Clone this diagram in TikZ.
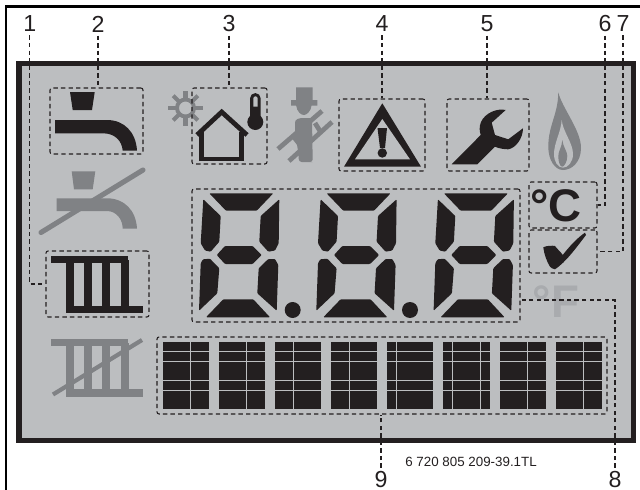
\documentclass[tikz,border=0pt]{standalone}
\usepackage{fontspec}
\setmainfont{Liberation Sans}
\usepackage{tikz}
\usetikzlibrary{fit}
\definecolor{lcdgray}{HTML}{BCBEC0}
\definecolor{lcdblack}{HTML}{231F20}
\definecolor{lcdoff}{HTML}{808285}
\definecolor{lcdfaint}{HTML}{A9ABAE}
\tikzset{
  dashbox/.style={draw=lcdblack, line width=0.6pt, dash pattern=on 2.5pt off 1.8pt, rounded corners=1.2pt, inner sep=0pt},
  leader/.style={draw=lcdblack, line width=0.6pt, dash pattern=on 2.5pt off 1.8pt},
  numlabel/.style={font=\fontsize{13.2}{14}\selectfont, text=lcdblack, inner sep=0pt, outer sep=2pt},
  seg/.style={fill=lcdblack, rounded corners=0.5pt},
  offsym/.style={fill=lcdoff},
  offline/.style={draw=lcdoff, line width=2.9pt, line cap=round}
}
\begin{document}
\begin{tikzpicture}[x=0.02cm, y=-0.02cm]
  \useasboundingbox (0,0) rectangle (640,490);
  \draw[black, line width=1.3pt] (6,490) -- (6,6.5) -- (640,6.5);
  \fill[lcdgray] (19,63.5) rectangle (633.5,440.5);
  \draw[lcdblack, line width=2.9pt] (19,63.5) rectangle (633.5,440.5);

  % digits
  \foreach \dx in {0,117.3,234.6} {
    \begin{scope}[shift={(\dx,0)}]
      \fill[seg] (209.3,193.3) -- (273.3,193.3) -- (256.7,210.7) -- (226,210.7) -- cycle;
      \fill[seg] (203.3,199.3) -- (220.7,216) -- (219.3,241.7) -- (210.7,251.7) -- (205,250.5) -- (200.7,243.3) -- cycle;
      \fill[seg] (279.3,199.3) -- (278.7,243.3) -- (275,250.5) -- (268.3,251.7) -- (259.3,241.7) -- (260.7,216) -- cycle;
      \fill[seg] (225,246) -- (252.7,246) -- (261.7,255) -- (252.7,264) -- (225,264) -- (216.7,255) -- cycle;
      \fill[seg] (200.7,263.3) -- (203,259.3) -- (210,258.7) -- (219.3,268.3) -- (217.3,293.3) -- (199,310.7) -- cycle;
      \fill[seg] (268.3,259) -- (275,259) -- (278.3,265) -- (276.7,310.7) -- (257.3,293.3) -- (258.7,268.3) -- cycle;
      \fill[seg] (223.3,299.3) -- (253.3,299.3) -- (270,317.3) -- (206,317.3) -- cycle;
    \end{scope}
  }
  \fill[lcdblack] (292.7,310) circle (8);
  \fill[lcdblack] (410,310) circle (8);

  % segment blocks
  \foreach \bx/\vlist in {162.7/{190.3},219/{246.3},275/{293.3},331/{349.3},387/{396.3},443/{452.3,480.7},500/{527.7},556/{583.7}} {
    \pgfmathsetmacro{\bw}{ifthenelse(\bx==443,47,46.3)}
    \fill[lcdblack] (\bx,342) rectangle ++(\bw,67);
    \foreach \ly in {351.3,361.3,380.3,390.3}
      \draw[lcdgray, line width=0.5pt] (\bx,\ly) -- ++(\bw,0);
    \foreach \lx in \vlist
      \draw[lcdgray, line width=0.5pt] (\lx,342) -- (\lx,409);
  }

  % tap
  \fill[lcdblack] (70,92) -- (94.7,92) -- (92,110) -- (72.7,110) -- cycle;
  \fill[lcdblack] (55,120) -- (55,133.3) -- (103,133.3) .. controls (115,133.3) and (122,141) .. (122.7,150.7) -- (137,150.7) .. controls (136,132) and (124,120) .. (107,120) -- cycle;
  \fill[offsym] (71.7,171.3) -- (95.3,171.3) -- (92.7,189.3) -- (74,189.3) -- cycle;
  \fill[offsym] (56.7,198.3) -- (56.7,211) -- (107,211) .. controls (116,211) and (122.7,219) .. (122.7,228.7) -- (137,228.7) .. controls (136,210) and (124,198.3) .. (107,198.3) -- cycle;
  \draw[offline] (41,232.5) -- (143,170);

  % sun
  \foreach \a in {0,45,...,315}
    \draw[lcdoff, line width=2.4pt] (185.5,108) ++(\a:9) -- ++(\a:8.5);
  \draw[lcdoff, line width=2.2pt] (185.5,108) circle (8.5);

  % house and thermometer
  \draw[lcdblack, line width=2.7pt] (197,135) -- (221.7,112) -- (247,135);
  \draw[lcdblack, line width=2.7pt] (201.5,132) -- (201.5,159) -- (241.5,159) -- (241.5,132);
  \fill[lcdblack] (250,120) -- (250,98.4) arc (180:360:5.35) -- (260.7,120) -- cycle;
  \fill[lcdblack] (255.3,122) circle (8);
  \fill[lcdgray] (253.3,98.5) arc (180:360:2.2) -- (257.7,106.5) -- (253.3,106.5) -- cycle;

  % sweep
  \fill[offsym] (296,87.3) -- (312.7,87.3) -- (312.7,100) -- (317.3,100) -- (317.3,105.7) -- (291,105.7) -- (291,100) -- (296,100) -- cycle;
  \fill[offsym] (296,105) -- (311.7,105) .. controls (311,112) and (306,115) .. (304,115) .. controls (301,115) and (297,112) .. (296,105) -- cycle;
  \fill[offsym, rounded corners=1.5pt] (295,120) -- (300,118) -- (312,118) -- (312.7,162) -- (310,162) -- (299,162) -- (298,150) -- (295,135) -- cycle;
  \draw[lcdoff, line width=2.7pt] (278,149) -- (322,111);
  \draw[lcdoff, line width=2.7pt] (289,161) -- (332,122);
  \draw[lcdoff, line width=2.7pt] (293,136) -- (301,146);
  \draw[lcdoff, line width=2.7pt] (315,123) -- (320,131);

  % warning
  \fill[lcdblack] (382.3,103.3) -- (421,166.7) -- (344,166.7) -- cycle;
  \fill[lcdgray] (382.3,119) -- (410,159.3) -- (355,159.3) -- cycle;
  \fill[lcdblack] (377.5,128) -- (387,128) -- (385,148) -- (380,148) -- cycle;
  \fill[lcdblack] (382.3,153) circle (4.7);

  % wrench
  \fill[lcdblack] (451.7,164.3) -- (477.3,164.3) -- (495,146.7) .. controls (499,148.5) and (504,149.3) .. (508.3,149.3) .. controls (516,148) and (523,138) .. (523,128.3) -- (508.3,139.3) -- (495,135) -- (491.7,122.7) -- (505.7,110) .. controls (497,108) and (485,113) .. (481,122) .. controls (479,127) and (479.5,131) .. (480.7,135) -- cycle;

  % flame
  \fill[offsym] (558.3,92.3) .. controls (562,108) and (581,130) .. (581,148) .. controls (581,162) and (572,170) .. (563,170) .. controls (555,170) and (548.3,160) .. (548.3,147) .. controls (548.3,125) and (558,115) .. (558.3,92.3) -- cycle;
  \fill[lcdgray] (561.7,120) .. controls (563,132) and (573,143) .. (573,154) .. controls (573,162) and (568,167.7) .. (563,167.7) .. controls (558,167.7) and (554,162) .. (554,154) .. controls (554,143) and (561,132) .. (561.7,120) -- cycle;
  \fill[offsym] (562.3,140) .. controls (563,147) and (567.3,151) .. (567.3,156) .. controls (567.3,162) and (564,166.7) .. (562.3,166.7) .. controls (560,166.7) and (558.3,162) .. (558.3,156) .. controls (558.3,151) and (562,147) .. (562.3,140) -- cycle;

  % temperature and check
  \node[font=\fontsize{26}{28}\selectfont\bfseries, text=lcdblack, inner sep=0pt] (degc) at (556,206) {°C};
  \node[font=\fontsize{26}{28}\selectfont\bfseries, text=lcdfaint, inner sep=0pt] (degf) at (556,302) {°F};
  \fill[lcdblack] (543.3,247.3) .. controls (547,245.5) and (552,245.5) .. (555,246) .. controls (557,249) and (561,252) .. (562.7,255) .. controls (569,247) and (577,238) .. (585,232.7) -- (586,235) .. controls (576,248) and (566,262) .. (555,269.3) .. controls (553,269) and (551,268) .. (550,266.7) .. controls (547,262) and (544,254) .. (543.3,247.3) -- cycle;

  % radiators
  \fill[lcdblack] (50.7,255.7) rectangle (128.3,262.7);
  \foreach \rx in {66,84,102.3,120.7}
    \fill[lcdblack] (\rx,260) rectangle ++(7.8,53.3);
  \fill[lcdblack] (66,306) rectangle (143.3,313.3);
  \fill[offsym] (50.7,338.7) rectangle (128.3,345.7);
  \foreach \rx in {66,84,102.3,120.7}
    \fill[offsym] (\rx,343) rectangle ++(7.8,53.3);
  \fill[offsym] (66,389.3) rectangle (143.3,396.7);
  \draw[lcdoff, line width=2.4pt] (53,394.5) -- (142,340);

  % dashed boxes
  \node[dashbox, fit={(46,251) (149,317)}] (box1) {};
  \node[dashbox, fit={(50,88) (143,154)}] (box2) {};
  \node[dashbox, fit={(192,88) (267,164)}] (box3) {};
  \node[dashbox, fit={(339,99) (425,171)}] (box4) {};
  \node[dashbox, fit={(447,99) (529,171)}] (box5) {};
  \node[dashbox, fit={(529,182) (597,228)}] (box6) {};
  \node[dashbox, fit={(529,230) (597,273)}] (box7) {};
  \node[dashbox, fit={(192,189) (520,322)}] (box8) {};
  \node[dashbox, fit={(157,337) (607,414)}] (box9) {};

  \node[numlabel] (num1) at (29.7,24) {1};
  \node[numlabel] (num2) at (98,24) {2};
  \node[numlabel] (num3) at (229,24) {3};
  \node[numlabel] (num4) at (382,24) {4};
  \node[numlabel] (num5) at (487,24) {5};
  \node[numlabel] (num6) at (605,24) {6};
  \node[numlabel] (num7) at (623,24) {7};
  \node[numlabel] (num8) at (615,479.5) {8};
  \node[numlabel] (num9) at (381,479.5) {9};

  \coordinate (tap8) at (box8.east |- 0,300);
  \draw[leader] (num1.south) |- (box1.west);
  \draw[leader] (num2.south) -- (num2.south |- box2.north);
  \draw[leader] (num3.south) -- (num3.south |- box3.north);
  \draw[leader] (num4.south) -- (num4.south |- box4.north);
  \draw[leader] (num5.south) -- (num5.south |- box5.north);
  \draw[leader] (num6.south) |- (box6.east);
  \draw[leader] (num7.south) |- (box7.east);
  \draw[leader] (num8.north) |- (tap8);
  \draw[leader] (num9.north) -- (num9.north |- box9.south);

  \node[font=\fontsize{7.6}{9}\selectfont, text=lcdblack, inner sep=0pt, anchor=west] (partno) at (405,461.5) {6 720 805 209-39.1TL};
\end{tikzpicture}
\end{document}
